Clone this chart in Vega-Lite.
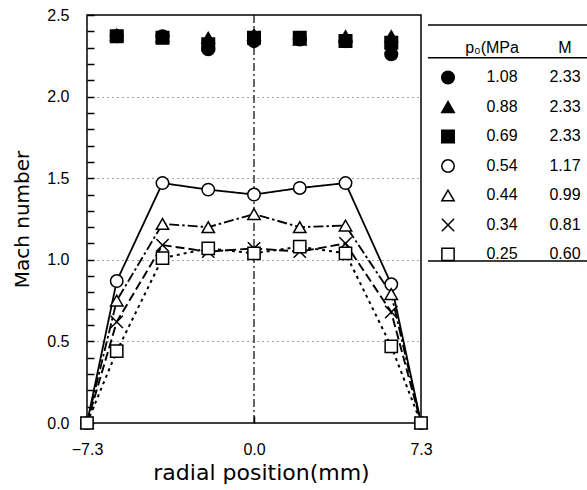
{
  "$schema": "https://vega.github.io/schema/vega-lite/v6.json",
  "background": "white",
  "padding": {"left": 12, "top": 6, "right": 0, "bottom": 0},
  "bounds": "flush",
  "spacing": 7,
  "config": {"font": "Liberation Sans", "view": {"stroke": null}},
  "datasets": {
    "pts": [
      {"x": -6, "M": 2.37, "p0": "1.08"}, {"x": -4, "M": 2.37, "p0": "1.08"}, {"x": -2, "M": 2.29, "p0": "1.08"}, {"x": 0, "M": 2.34, "p0": "1.08"}, {"x": 2, "M": 2.35, "p0": "1.08"}, {"x": 4, "M": 2.34, "p0": "1.08"}, {"x": 6, "M": 2.26, "p0": "1.08"},
      {"x": -6, "M": 2.38, "p0": "0.88"}, {"x": -4, "M": 2.37, "p0": "0.88"}, {"x": -2, "M": 2.36, "p0": "0.88"}, {"x": 0, "M": 2.38, "p0": "0.88"}, {"x": 2, "M": 2.35, "p0": "0.88"}, {"x": 4, "M": 2.37, "p0": "0.88"}, {"x": 6, "M": 2.37, "p0": "0.88"},
      {"x": -6, "M": 2.37, "p0": "0.69"}, {"x": -4, "M": 2.36, "p0": "0.69"}, {"x": -2, "M": 2.32, "p0": "0.69"}, {"x": 0, "M": 2.36, "p0": "0.69"}, {"x": 2, "M": 2.36, "p0": "0.69"}, {"x": 4, "M": 2.34, "p0": "0.69"}, {"x": 6, "M": 2.33, "p0": "0.69"},
      {"x": -7.3, "M": 0, "p0": "0.54"}, {"x": -6, "M": 0.87, "p0": "0.54"}, {"x": -4, "M": 1.47, "p0": "0.54"}, {"x": -2, "M": 1.43, "p0": "0.54"}, {"x": 0, "M": 1.40, "p0": "0.54"}, {"x": 2, "M": 1.44, "p0": "0.54"}, {"x": 4, "M": 1.47, "p0": "0.54"}, {"x": 6, "M": 0.85, "p0": "0.54"}, {"x": 7.3, "M": 0, "p0": "0.54"},
      {"x": -7.3, "M": 0, "p0": "0.44"}, {"x": -6, "M": 0.75, "p0": "0.44"}, {"x": -4, "M": 1.22, "p0": "0.44"}, {"x": -2, "M": 1.20, "p0": "0.44"}, {"x": 0, "M": 1.28, "p0": "0.44"}, {"x": 2, "M": 1.20, "p0": "0.44"}, {"x": 4, "M": 1.21, "p0": "0.44"}, {"x": 6, "M": 0.79, "p0": "0.44"}, {"x": 7.3, "M": 0, "p0": "0.44"},
      {"x": -7.3, "M": 0, "p0": "0.34"}, {"x": -6, "M": 0.62, "p0": "0.34"}, {"x": -4, "M": 1.09, "p0": "0.34"}, {"x": -2, "M": 1.05, "p0": "0.34"}, {"x": 0, "M": 1.07, "p0": "0.34"}, {"x": 2, "M": 1.05, "p0": "0.34"}, {"x": 4, "M": 1.10, "p0": "0.34"}, {"x": 6, "M": 0.68, "p0": "0.34"}, {"x": 7.3, "M": 0, "p0": "0.34"},
      {"x": -7.3, "M": 0, "p0": "0.25"}, {"x": -6, "M": 0.44, "p0": "0.25"}, {"x": -4, "M": 1.01, "p0": "0.25"}, {"x": -2, "M": 1.07, "p0": "0.25"}, {"x": 0, "M": 1.04, "p0": "0.25"}, {"x": 2, "M": 1.08, "p0": "0.25"}, {"x": 4, "M": 1.04, "p0": "0.25"}, {"x": 6, "M": 0.47, "p0": "0.25"}, {"x": 7.3, "M": 0, "p0": "0.25"}
    ],
    "legendRows": [
      {"r": 1, "p0": "1.08", "Mn": "2.33"},
      {"r": 2, "p0": "0.88", "Mn": "2.33"},
      {"r": 3, "p0": "0.69", "Mn": "2.33"},
      {"r": 4, "p0": "0.54", "Mn": "1.17"},
      {"r": 5, "p0": "0.44", "Mn": "0.99"},
      {"r": 6, "p0": "0.34", "Mn": "0.81"},
      {"r": 7, "p0": "0.25", "Mn": "0.60"}
    ]
  },
  "hconcat": [
    {
      "width": 334,
      "height": 408,
      "view": {"stroke": "black", "strokeWidth": 1.5},
      "layer": [
        {
          "data": {"values": [{"x": 0}]},
          "mark": {"type": "rule", "color": "black", "strokeWidth": 1.2, "strokeDash": [8, 3, 2, 3]},
          "encoding": {
            "x": {"field": "x", "type": "quantitative", "scale": {"domain": [-7.3, 7.3], "nice": false, "zero": false}}
          }
        },
        {
          "data": {"name": "pts"},
          "transform": [{"filter": {"field": "p0", "oneOf": ["0.54", "0.44", "0.34", "0.25"]}}],
          "mark": {"type": "line", "color": "black"},
          "encoding": {
            "x": {"field": "x", "type": "quantitative", "scale": {"domain": [-7.3, 7.3], "nice": false, "zero": false}},
            "y": {"field": "M", "type": "quantitative", "scale": {"domain": [0, 2.5], "nice": false}},
            "strokeDash": {"field": "p0", "type": "nominal", "scale": {"domain": ["0.54", "0.44", "0.34", "0.25"], "range": [[1, 0], [10, 3, 2.5, 3], [9, 4], [3, 4]]}, "legend": null},
            "strokeWidth": {"field": "p0", "type": "ordinal", "scale": {"domain": ["0.54", "0.44", "0.34", "0.25"], "range": [1.8, 2, 2.5, 2]}, "legend": null}
          }
        },
        {
          "data": {"name": "pts"},
          "mark": {"type": "point", "filled": true, "stroke": "black", "strokeWidth": 1.5, "opacity": 1},
          "encoding": {
            "x": {
              "field": "x", "type": "quantitative",
              "scale": {"domain": [-7.3, 7.3], "nice": false, "zero": false},
              "axis": {
                "values": [-7.3, 0, 7.3], "tickCount": 10, "format": ".1f", "grid": false, "domain": false,
                "tickSize": -7, "tickWidth": 1.5, "tickColor": "black",
                "labelPadding": 25, "labelFontSize": 16, "labelColor": "black", "labelFlush": false,
                "title": "radial position(mm)", "titleFont": "DejaVu Sans", "titleFontSize": 22,
                "titleFontWeight": "normal", "titleColor": "black", "titlePadding": 5, "titleX": 174
              }
            },
            "y": {
              "field": "M", "type": "quantitative",
              "scale": {"domain": [0, 2.5], "nice": false},
              "axis": {
                "values": [0, 0.1, 0.2, 0.3, 0.4, 0.5, 0.6, 0.7, 0.8, 0.9, 1, 1.1, 1.2, 1.3, 1.4, 1.5, 1.6, 1.7, 1.8, 1.9, 2, 2.1, 2.2, 2.3, 2.4, 2.5],
                "tickCount": 40,
                "labelExpr": "abs(datum.value*2 - round(datum.value*2)) < 0.000001 ? format(datum.value, '.1f') : ''",
                "labelOverlap": false,
                "grid": true,
                "gridOpacity": {"condition": {"test": "abs(datum.value*2 - round(datum.value*2)) < 0.000001 && datum.value > 0.01 && datum.value < 2.49", "value": 1}, "value": 0},
                "gridDash": [1, 4], "gridColor": "#444", "gridWidth": 1,
                "domain": false,
                "tickSize": -7, "tickWidth": 1.5, "tickColor": "black",
                "labelPadding": 25, "labelFontSize": 16, "labelColor": "black",
                "title": "Mach number", "titleFont": "DejaVu Sans", "titleFontSize": 20,
                "titleFontWeight": "normal", "titleColor": "black", "titlePadding": 14
              }
            },
            "shape": {"field": "p0", "type": "nominal", "scale": {"domain": ["1.08", "0.88", "0.69", "0.54", "0.44", "0.34", "0.25"], "range": ["circle", "triangle-up", "square", "circle", "triangle-up", "M-1,-1L1,1M1,-1L-1,1", "square"]}, "legend": null},
            "fill": {"field": "p0", "type": "nominal", "scale": {"domain": ["1.08", "0.88", "0.69", "0.54", "0.44", "0.34", "0.25"], "range": ["black", "black", "black", "white", "white", "white", "white"]}, "legend": null},
            "size": {"field": "p0", "type": "ordinal", "scale": {"domain": ["1.08", "0.88", "0.69", "0.54", "0.44", "0.34", "0.25"], "range": [160, 150, 140, 105, 95, 75, 100]}, "legend": null}
          }
        }
      ]
    },
    {
      "width": 160,
      "height": 408,
      "view": {"stroke": null},
      "layer": [
        {
          "data": {"values": [{"r": -0.78}, {"r": 0.33}, {"r": 7.22}]},
          "mark": {"type": "rule", "color": "black", "strokeWidth": 1.5},
          "encoding": {
            "y": {"field": "r", "type": "quantitative", "scale": {"domain": [-1.1186, 12.7119], "reverse": true, "nice": false, "zero": false}, "axis": null}
          }
        },
        {
          "data": {"values": [{"r": 0, "t": "p₀(MPa"}]},
          "mark": {"type": "text", "fontSize": 16, "color": "black", "align": "center", "baseline": "middle", "dx": -14.5},
          "encoding": {
            "x": {"datum": "p0", "type": "nominal", "scale": {"type": "point", "domain": ["sym", "p0", "M"], "range": [20, 137], "padding": 0}, "axis": null},
            "y": {"field": "r", "type": "quantitative", "scale": {"domain": [-1.1186, 12.7119], "reverse": true, "nice": false, "zero": false}, "axis": null},
            "text": {"field": "t"}
          }
        },
        {
          "data": {"values": [{"r": 0, "t": "M"}]},
          "mark": {"type": "text", "fontSize": 16, "color": "black", "align": "center", "baseline": "middle"},
          "encoding": {
            "x": {"datum": "M", "type": "nominal", "scale": {"type": "point", "domain": ["sym", "p0", "M"], "range": [20, 137], "padding": 0}, "axis": null},
            "y": {"field": "r", "type": "quantitative", "scale": {"domain": [-1.1186, 12.7119], "reverse": true, "nice": false, "zero": false}, "axis": null},
            "text": {"field": "t"}
          }
        },
        {
          "data": {"name": "legendRows"},
          "mark": {"type": "point", "filled": true, "stroke": "black", "strokeWidth": 1.5, "opacity": 1},
          "encoding": {
            "x": {"datum": "sym", "type": "nominal", "scale": {"type": "point", "domain": ["sym", "p0", "M"], "range": [20, 137], "padding": 0}, "axis": null},
            "y": {"field": "r", "type": "quantitative", "scale": {"domain": [-1.1186, 12.7119], "reverse": true, "nice": false, "zero": false}, "axis": null},
            "shape": {"field": "p0", "type": "nominal", "scale": {"domain": ["1.08", "0.88", "0.69", "0.54", "0.44", "0.34", "0.25"], "range": ["circle", "triangle-up", "square", "circle", "triangle-up", "M-1,-1L1,1M1,-1L-1,1", "square"]}, "legend": null},
            "fill": {"field": "p0", "type": "nominal", "scale": {"domain": ["1.08", "0.88", "0.69", "0.54", "0.44", "0.34", "0.25"], "range": ["black", "black", "black", "white", "white", "white", "white"]}, "legend": null},
            "size": {"field": "p0", "type": "ordinal", "scale": {"domain": ["1.08", "0.88", "0.69", "0.54", "0.44", "0.34", "0.25"], "range": [160, 150, 140, 105, 95, 75, 100]}, "legend": null}
          }
        },
        {
          "data": {"name": "legendRows"},
          "mark": {"type": "text", "fontSize": 16, "color": "black", "align": "center", "baseline": "middle", "dx": -4.5},
          "encoding": {
            "x": {"datum": "p0", "type": "nominal", "scale": {"type": "point", "domain": ["sym", "p0", "M"], "range": [20, 137], "padding": 0}, "axis": null},
            "y": {"field": "r", "type": "quantitative", "scale": {"domain": [-1.1186, 12.7119], "reverse": true, "nice": false, "zero": false}, "axis": null},
            "text": {"field": "p0"}
          }
        },
        {
          "data": {"name": "legendRows"},
          "mark": {"type": "text", "fontSize": 16, "color": "black", "align": "center", "baseline": "middle"},
          "encoding": {
            "x": {"datum": "M", "type": "nominal", "scale": {"type": "point", "domain": ["sym", "p0", "M"], "range": [20, 137], "padding": 0}, "axis": null},
            "y": {"field": "r", "type": "quantitative", "scale": {"domain": [-1.1186, 12.7119], "reverse": true, "nice": false, "zero": false}, "axis": null},
            "text": {"field": "Mn"}
          }
        }
      ]
    }
  ]
}
